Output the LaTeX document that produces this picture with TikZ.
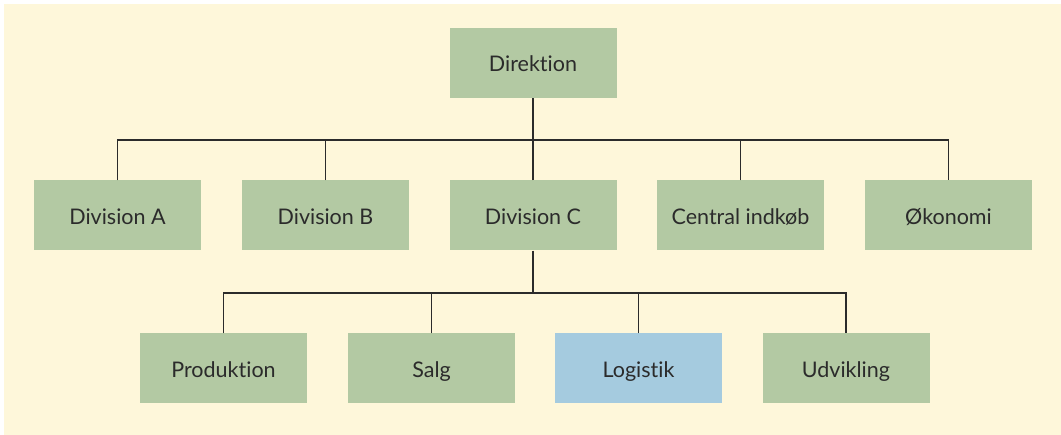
\documentclass[tikz,border=0pt]{standalone}
\usepackage{fontspec}
\setmainfont{Lato}[Ligatures={NoCommon,NoRequired,NoContextual}]
\definecolor{bgc}{HTML}{FEF7DA}
\definecolor{boxg}{HTML}{B3C9A3}
\definecolor{boxb}{HTML}{A5CBDF}
\definecolor{txt}{HTML}{2B2B2B}
\definecolor{ln}{HTML}{2B2B2B}
\tikzset{
  orgbox/.style={fill=boxg, draw=none, minimum width=167pt, minimum height=70pt, inner sep=0pt, text=txt, text height=20pt, text depth=2pt, font=\fontsize{21.5}{24}\selectfont},
  bluebox/.style={orgbox, fill=boxb},
  conn/.style={draw=ln, line width=1.2pt}
}
\begin{document}
\begin{tikzpicture}[x=1pt,y=-1pt]
\useasboundingbox (0,0) rectangle (1061,435);
\fill[bgc] (4,4) rectangle (1061,435);
\node[orgbox] (dir) at (533,63) {Direktion};
\node[orgbox] (da) at (117.5,215.5) {Division A};
\node[orgbox] (db) at (325.5,215.5) {Division B};
\node[orgbox] (dc) at (533,215.5) {Division C};
\node[orgbox] (ci) at (740.5,215.5) {Central indkøb};
\node[orgbox] (ok) at (948.5,215.5) {Økonomi};
\node[orgbox] (pr) at (223.5,368.5) {Produktion};
\node[orgbox] (sa) at (431.5,368.5) {Salg};
\node[bluebox] (lo) at (638.5,368.5) {Logistik};
\node[orgbox] (ud) at (846,368.5) {Udvikling};
\coordinate (j1) at (533,140);
\coordinate (j2) at (533,293);
\draw[conn] (dir.south) -- (j1);
\draw[conn] (da.north) |- (j1) -| (ok.north);
\draw[conn] (db.north) -- (db.north |- j1);
\draw[conn] (dc.north) -- (j1);
\draw[conn] (ci.north) -- (ci.north |- j1);
\draw[conn] (dc.south) -- (j2);
\draw[conn] (pr.north) |- (j2) -| (ud.north);
\draw[conn] (sa.north) -- (sa.north |- j2);
\draw[conn] (lo.north) -- (lo.north |- j2);
\end{tikzpicture}
\end{document}
